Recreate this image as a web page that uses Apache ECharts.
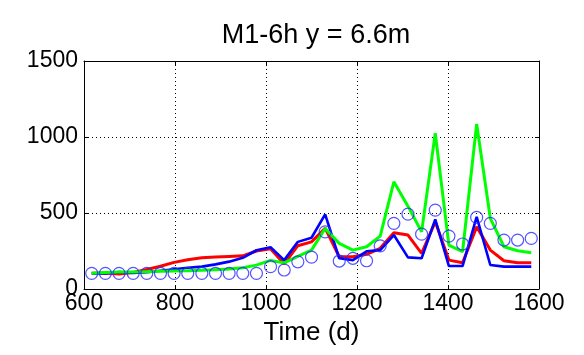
<!DOCTYPE html>
<html>
<head>
<meta charset="utf-8">
<script src="https://cdn.jsdelivr.net/npm/echarts@6/dist/echarts.min.js"></script>
<style>
html,body{margin:0;padding:0;background:#fff;}
#chart{width:584px;height:355px;}
</style>
</head>
<body>
<div id="chart"></div>
<script>
var times = [617, 647, 677, 708, 738, 768, 798, 828, 859, 889, 919, 949, 979, 1010, 1040, 1070, 1100, 1130, 1161, 1191, 1221, 1251, 1281, 1312, 1342, 1372, 1402, 1432, 1463, 1493, 1523, 1553, 1583];
var observed = [103, 103, 103, 103, 103, 103, 103, 103, 103, 103, 103, 103, 103, 147, 125, 179, 210, 376, 184, 202, 186, 284, 432, 493, 361, 519, 348, 296, 471, 432, 322, 322, 333];
var redSeries = [103, 105, 98, 108, 128, 150, 175, 192, 206, 210, 214, 218, 250, 265, 165, 285, 310, 400, 212, 212, 228, 268, 370, 355, 235, 442, 190, 173, 409, 256, 186, 173, 173];
var blueSeries = [103, 103, 112, 105, 110, 120, 130, 140, 147, 162, 180, 205, 255, 275, 190, 310, 337, 491, 202, 190, 248, 256, 355, 208, 202, 458, 151, 151, 475, 158, 147, 147, 147];
var greenSeries = [103, 108, 112, 112, 114, 116, 118, 120, 123, 127, 131, 140, 157, 188, 172, 215, 256, 398, 300, 256, 278, 348, 705, 545, 376, 1025, 289, 245, 1085, 465, 278, 252, 239];
var xTicks = [600, 800, 1000, 1200, 1400, 1600];
var yTicks = [0, 500, 1000, 1500];

function pairs(ys) { return times.map(function (t, i) { return [t, ys[i]]; }); }
function plain(v) { return String(v); }

var FONT = 'Liberation Sans, Arial, sans-serif';
var chart = echarts.init(document.getElementById('chart'));
var axisCommonX = {
  type: 'value', min: xTicks[0], max: xTicks[xTicks.length - 1], interval: 200,
  axisLine: { show: true, onZero: false, lineStyle: { color: '#000', width: 1 } },
  axisTick: { show: true, inside: true, length: 4, lineStyle: { color: '#000' } }
};
var axisCommonY = {
  type: 'value', min: yTicks[0], max: yTicks[yTicks.length - 1], interval: 500,
  axisLine: { show: true, onZero: false, lineStyle: { color: '#000', width: 1 } },
  axisTick: { show: true, inside: true, length: 4, lineStyle: { color: '#000' } }
};
chart.setOption({
  animation: false,
  backgroundColor: '#fff',
  title: {
    text: 'M1-6h y = 6.6m', left: 311, top: 17, textAlign: 'center',
    textStyle: { fontFamily: FONT, fontSize: 27, fontWeight: 'normal', color: '#000' }
  },
  grid: { left: 84, right: 45, top: 61, bottom: 66 },
  xAxis: [
    Object.assign({}, axisCommonX, {
      position: 'bottom',
      name: 'Time (d)', nameLocation: 'middle', nameGap: 21,
      nameTextStyle: { fontFamily: FONT, fontSize: 26, color: '#000', verticalAlign: 'top' },
      axisLabel: { fontFamily: FONT, fontSize: 23, color: '#000', margin: 3, formatter: plain },
      splitLine: { show: true, lineStyle: { color: '#000', width: 1, type: [1, 3] } }
    }),
    Object.assign({}, axisCommonX, {
      position: 'top', axisLabel: { show: false }, splitLine: { show: false }
    })
  ],
  yAxis: [
    Object.assign({}, axisCommonY, {
      position: 'left',
      axisLabel: { fontFamily: FONT, fontSize: 23, color: '#000', margin: 6, formatter: plain },
      splitLine: { show: true, lineStyle: { color: '#000', width: 1, type: [1, 3] } }
    }),
    Object.assign({}, axisCommonY, {
      position: 'right', axisLabel: { show: false }, splitLine: { show: false }
    })
  ],
  series: [
    { type: 'line', data: pairs(redSeries), symbol: 'none', lineStyle: { color: '#ff0000', width: 3 }, z: 2 },
    { type: 'line', data: pairs(blueSeries), symbol: 'none', lineStyle: { color: '#0000ff', width: 2.6 }, z: 3 },
    { type: 'line', data: pairs(greenSeries), symbol: 'none', lineStyle: { color: '#00ff00', width: 3 }, z: 4 },
    { type: 'scatter', data: pairs(observed), symbol: 'circle', symbolSize: 12,
      itemStyle: { color: 'rgba(0,0,0,0)', borderColor: '#2a2aff', borderWidth: 1.2 }, z: 5 }
  ]
});
</script>
</body>
</html>
